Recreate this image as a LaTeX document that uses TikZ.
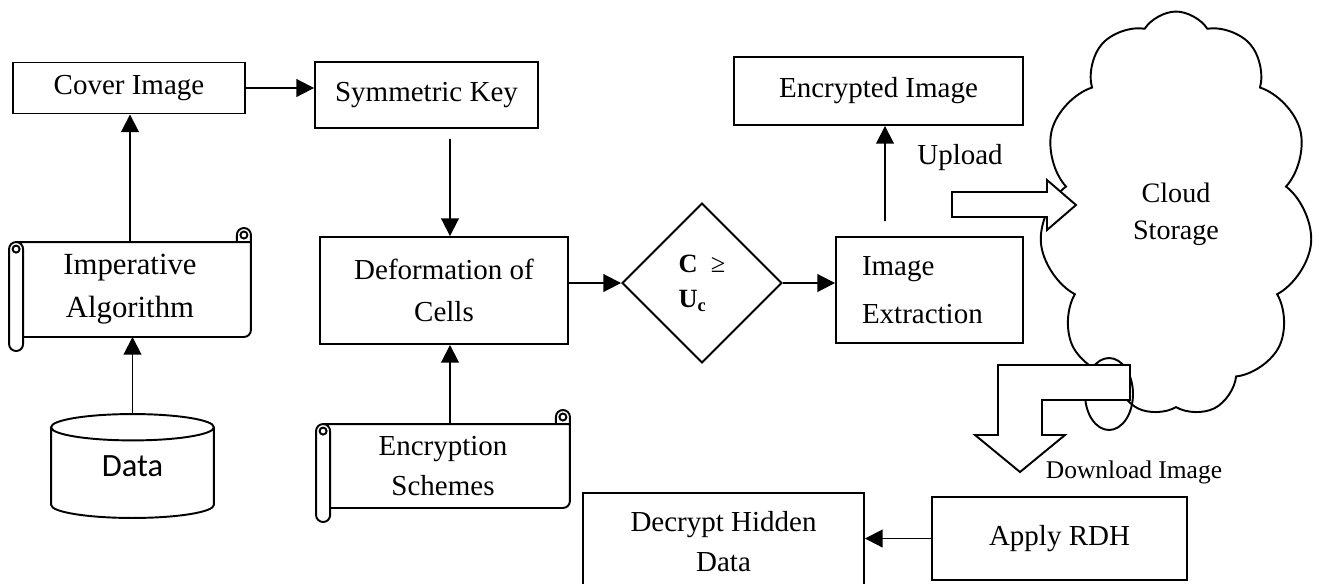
\documentclass[tikz,border=0pt]{standalone}
\usepackage{fontspec}
\setmainfont{Liberation Serif}
\newfontfamily\drumfont{Carlito}
\usetikzlibrary{arrows.meta,shapes.geometric,shapes.symbols,calc}

\tikzset{
  box/.style={draw=black,align=center,inner sep=2pt},
  roll/.style={align=center,inner sep=2pt},
  drum/.style={inner sep=0pt,font=\drumfont\fontsize{18.5pt}{22pt}\selectfont}
}

% scroll outline round a node
\newcommand{\drawscroll}[1]{%
  \draw let \p1=(#1.north west), \p2=(#1.south east) in
    (\x1,\y1-4pt) arc[start angle=180,end angle=90,radius=4pt]
    -- (\x2-8pt,\y1) -- (\x2-8pt,\y1+4pt)
    arc[start angle=180,end angle=0,radius=4pt]
    -- (\x2,\y2+4pt) arc[start angle=0,end angle=-90,radius=4pt]
    -- (\x1+8pt,\y2) -- (\x1+8pt,\y2-4pt)
    arc[start angle=0,end angle=-180,radius=4pt] -- cycle
    (\x1+4pt,\y1) arc[start angle=90,end angle=0,radius=4pt] -- (\x1+8pt,\y2)
    (\x1+4pt,\y1-4pt) circle[radius=2pt]
    (\x2-8pt,\y1) -- (\x2,\y1)
    (\x2-4pt,\y1+4pt) circle[radius=2pt];}

% drum outline round a node
\newcommand{\drawdrum}[1]{%
  \draw let \p1=(#1.north west), \p2=(#1.south east), \n1={(\x2-\x1)/2} in
    (\x1,\y1-7.5pt) -- (\x1,\y2+7.5pt)
    arc[start angle=180,end angle=360,x radius=\n1,y radius=7.5pt]
    -- (\x2,\y1-7.5pt)
    (\x1+\n1,\y1-7.5pt) ellipse[x radius=\n1,y radius=7.5pt];}

\begin{document}
\begin{tikzpicture}[x=0.02cm,y=-0.02cm,>={Triangle[length=10pt,width=10pt]},line width=1.1pt,
    font=\fontsize{16.5pt}{24pt}\selectfont]
  \useasboundingbox (0,0) rectangle (1319,583);

  \node[box,minimum width=4.64cm,minimum height=1.02cm](cover)at(129, 88){Cover Image};
  \node[box,minimum width=4.46cm,minimum height=1.32cm](sym)at(426.5, 95){Symmetric Key};
  \node[box,minimum width=5.78cm,minimum height=1.36cm](enc)at(878.5, 91){Encrypted Image};
  \node[roll,minimum width=4.8cm,minimum height=1.86cm,font=\fontsize{17.5pt}{24.5pt}\selectfont](impe)at(130, 289.5){Imperative\\Algorithm};
  \node[drum,minimum width=3.22cm,minimum height=2.04cm](data)at(132.5, 466){Data};
  \node[box,minimum width=4.96cm,minimum height=2.14cm](deform)at(444, 290.5){Deformation of\\Cells};
  \node[roll,minimum width=5.04cm,minimum height=1.64cm,font=\fontsize{16.5pt}{22.5pt}\selectfont](encs)at(443, 466){Encryption\\Schemes};
  \node[draw,diamond,minimum width=3.2cm,minimum height=3.2cm,align=left,
        font=\fontsize{15pt}{20pt}\selectfont](cond)at(702, 283){\textbf{C} ~≥\\\textbf{U\textsubscript{c}}};
  \node[box,minimum height=2.12cm,text width=2.7cm,inner xsep=0.52cm,align=left,
        font=\fontsize{16.5pt}{27pt}\selectfont](extract)at(929.5, 290){Image\\Extraction};
  \node[draw,cloud,cloud puffs=11,cloud puff arc=115,cloud ignores aspect,
        minimum width=5.46cm,minimum height=8.1cm,align=center,
        font=\fontsize{16pt}{21pt}\selectfont](cloud)at(1176, 214){Cloud\\Storage};
  \node[style={}](upl)at(960, 158){Upload};
  \node[style={},font=\fontsize{14.5pt}{17pt}\selectfont](dl)at(1134, 472){Download Image};
  \node[box,minimum width=5.1cm,minimum height=1.66cm](rdh)at(1059.5, 538.5){Apply RDH};
  \node[box,minimum width=5.62cm,minimum height=1.94cm,font=\fontsize{16.5pt}{22.5pt}\selectfont](decrypt)at(723.5, 541.5){Decrypt Hidden\\Data};

  \drawscroll{impe}
  \drawscroll{encs}
  \drawdrum{data}

  % block arrows to and from the cloud
  \draw (1109, 394) ellipse[x radius=0.48cm,y radius=0.72cm];
  \draw[fill=white] (952, 192) -- (1047, 192) -- (1047, 180) -- (1076, 205)
    -- (1047, 230) -- (1047, 217) -- (952, 217) -- cycle;
  \draw[fill=white] (1130, 365) -- (998, 365) -- (998, 435) -- (975, 435)
    -- (1020, 472) -- (1065, 435) -- (1042, 435) -- (1042, 400) -- (1130, 400) -- cycle;

  \path[->](cover.east) edge (cover.east -| sym.west)
    (impe.north) edge (impe.north |- cover.south)
    (data.north) edge (data.north |- impe.south)
    ([xshift=0.47cm,yshift=-0.2cm]sym.south) edge ([xshift=0.12cm]deform.north)
    ([xshift=0.14cm]encs.north) edge ([xshift=0.12cm]deform.south)
    (deform.east |- cond.west) edge (cond.west)
    (cond.east) edge (cond.east -| extract.west)
    ([xshift=-0.89cm,yshift=0.3cm]extract.north) edge ([xshift=0.13cm]enc.south)
    (rdh.west) edge (rdh.west -| decrypt.east);
\end{tikzpicture}
\end{document}
